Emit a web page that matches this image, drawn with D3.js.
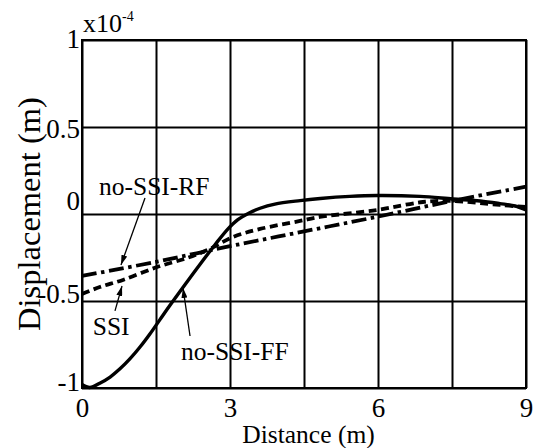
<!DOCTYPE html>
<html>
<head>
<meta charset="utf-8">
<script src="https://cdn.jsdelivr.net/npm/d3@7"></script>
<style>
  html, body { margin: 0; padding: 0; background: #fff; }
  svg { display: block; }
  svg text { font-family: "Liberation Serif", "Times New Roman", Times, serif; font-weight: normal; fill: #000; }
</style>
</head>
<body>
<svg id="chart" width="536" height="448"></svg>
<script>
// Displacement profiles (x10^-4 m) along the distance (m)
const ffDistance = [0, 0.16, 0.37, 0.57, 0.77, 0.97, 1.18, 1.38, 1.58, 1.78, 2.09, 2.39, 2.7, 2.96, 3.16, 3.37, 3.61, 3.91, 4.42, 4.83, 5.43, 5.98, 6.85, 7.52, 8.07, 8.47, 8.78, 9.0];
const ffDisp     = [-0.98, -0.997, -0.971, -0.937, -0.89, -0.833, -0.763, -0.688, -0.607, -0.526, -0.405, -0.29, -0.175, -0.085, -0.032, 0.003, 0.033, 0.057, 0.077, 0.089, 0.101, 0.106, 0.101, 0.086, 0.075, 0.06, 0.046, 0.023];

const ssiDistance = [0, 0.36, 0.83, 1.52, 2.13, 2.59, 3.06, 3.61, 4.42, 4.82, 5.98, 6.91, 7.52, 8.47, 9.0];
const ssiDisp     = [-0.46, -0.42, -0.379, -0.305, -0.253, -0.201, -0.132, -0.086, -0.04, -0.017, 0.023, 0.069, 0.075, 0.052, 0.04];

const rfDistance = [0, 1.5, 3, 4.5, 6, 7.5, 9];
const rfDisp     = [-0.356, -0.275, -0.185, -0.1, -0.015, 0.075, 0.157];

// Axis ticks and grid
const xTickValues = [0, 3, 6, 9];
const xGridValues = [0, 1.5, 3, 4.5, 6, 7.5, 9];
const yTickValues = [1, 0.5, 0, -0.5, -1];
const yTickLabels = ["1", "0.5", "0", "-0.5", "-1"];

const FONT = "'Liberation Serif', 'Times New Roman', Times, serif";

const svg = d3.select("#chart");
const W = 536, H = 448;
const margin = { top: 40, right: 10, bottom: 60, left: 82 };
const iw = W - margin.left - margin.right;
const ih = H - margin.top - margin.bottom;

const x = d3.scaleLinear().domain([0, 9]).range([margin.left, margin.left + iw]);
const y = d3.scaleLinear().domain([-1, 1]).range([margin.top + ih, margin.top]);

// Grid lines
const grid = svg.append("g");
grid.append("g")
  .attr("transform", `translate(0,${margin.top + ih})`)
  .call(d3.axisBottom(x).tickValues(xGridValues).tickSize(-ih).tickFormat(""))
  .call(g => g.select(".domain").remove())
  .call(g => g.selectAll("line").attr("stroke", "#000").attr("stroke-width", 2));
grid.append("g")
  .attr("transform", `translate(${margin.left},0)`)
  .call(d3.axisLeft(y).tickValues(yTickValues).tickSize(-iw).tickFormat(""))
  .call(g => g.select(".domain").remove())
  .call(g => g.selectAll("line").attr("stroke", "#000").attr("stroke-width", 2));

// Frame
svg.append("rect")
  .attr("x", margin.left).attr("y", margin.top)
  .attr("width", iw).attr("height", ih)
  .attr("fill", "none").attr("stroke", "#000").attr("stroke-width", 2);

// Tick labels (baseline nudges per label)
const yLabelShift = { "1": -2, "0.5": 1, "0": -14, "-0.5": -8, "-1": -7 };
const yAxis = svg.append("g")
  .attr("transform", `translate(${margin.left},0)`)
  .call(d3.axisLeft(y).tickValues(yTickValues).tickSize(0).tickPadding(2)
    .tickFormat((d, i) => yTickLabels[i]));
yAxis.attr("font-family", FONT).attr("font-size", 27);
yAxis.select(".domain").remove();
yAxis.selectAll("text")
  .attr("dy", function (d, i) { return (yLabelShift[yTickLabels[i]] + 9) + "px"; });

const xAxis = svg.append("g")
  .attr("transform", `translate(0,${margin.top + ih})`)
  .call(d3.axisBottom(x).tickValues(xTickValues).tickSize(0).tickPadding(0)
    .tickFormat(d3.format("d")));
xAxis.attr("font-family", FONT).attr("font-size", 27);
xAxis.select(".domain").remove();
xAxis.selectAll("text")
  .attr("dy", "0")
  .attr("y", 29);

// Exponent label
const expo = svg.append("text")
  .attr("x", margin.left + 1).attr("y", 32)
  .attr("font-family", FONT)
  .attr("font-size", 26);
expo.append("tspan").text("x10");
expo.append("tspan").attr("font-size", 14).attr("dy", -11).text("-4");

// Axis titles
svg.append("text")
  .attr("x", x(4.5) + 4.5).attr("y", 443)
  .attr("text-anchor", "middle")
  .attr("font-family", FONT)
  .attr("font-size", 25.5)
  .text("Distance (m)");

svg.append("text")
  .attr("transform", `translate(40,${(97 + 331) / 2}) rotate(-90)`)
  .attr("text-anchor", "middle")
  .attr("font-family", FONT)
  .attr("font-size", 32.5)
  .text("Displacement (m)");

// Curves
const line = d3.line()
  .x(d => x(d[0]))
  .y(d => y(d[1]))
  .curve(d3.curveCatmullRom.alpha(0.5));

const series = [
  { d: ffDistance, v: ffDisp, dash: null, width: 3.4 },
  { d: ssiDistance, v: ssiDisp, dash: "8,4.5", width: 3.8 },
  { d: rfDistance, v: rfDisp, dash: "15,4.5,3.5,4.5", width: 3.8 }
];
const plot = svg.append("g");
series.forEach(s => {
  plot.append("path")
    .datum(s.d.map((dd, i) => [dd, s.v[i]]))
    .attr("d", line)
    .attr("fill", "none")
    .attr("stroke", "#000")
    .attr("stroke-width", s.width)
    .attr("stroke-dasharray", s.dash)
    .attr("stroke-linejoin", "round");
});

// Annotations with leader arrows (data coordinates)
svg.append("defs").append("marker")
  .attr("id", "arrow")
  .attr("viewBox", "0 0 10 6")
  .attr("refX", 10).attr("refY", 3)
  .attr("markerWidth", 10).attr("markerHeight", 6)
  .attr("markerUnits", "userSpaceOnUse")
  .attr("orient", "auto")
  .append("path").attr("d", "M0,0 L10,3 L0,6 Z").attr("fill", "#000");

const notes = [
  { text: "no-SSI-RF", at: [0.345, 0.109], from: [1.277, 0.092], to: [0.79, -0.293] },
  { text: "SSI",       at: [0.217, -0.695], from: [0.669, -0.557], to: [0.811, -0.414] },
  { text: "no-SSI-FF", at: [2.007, -0.839], from: [2.19, -0.701], to: [2.047, -0.425] }
];
notes.forEach(n => {
  svg.append("text")
    .attr("x", x(n.at[0])).attr("y", y(n.at[1]))
    .attr("font-family", FONT)
    .attr("font-size", 25.5)
    .text(n.text);
  svg.append("line")
    .attr("x1", x(n.from[0])).attr("y1", y(n.from[1]))
    .attr("x2", x(n.to[0])).attr("y2", y(n.to[1]))
    .attr("stroke", "#000").attr("stroke-width", 1.3)
    .attr("marker-end", "url(#arrow)");
});
</script>
</body>
</html>
